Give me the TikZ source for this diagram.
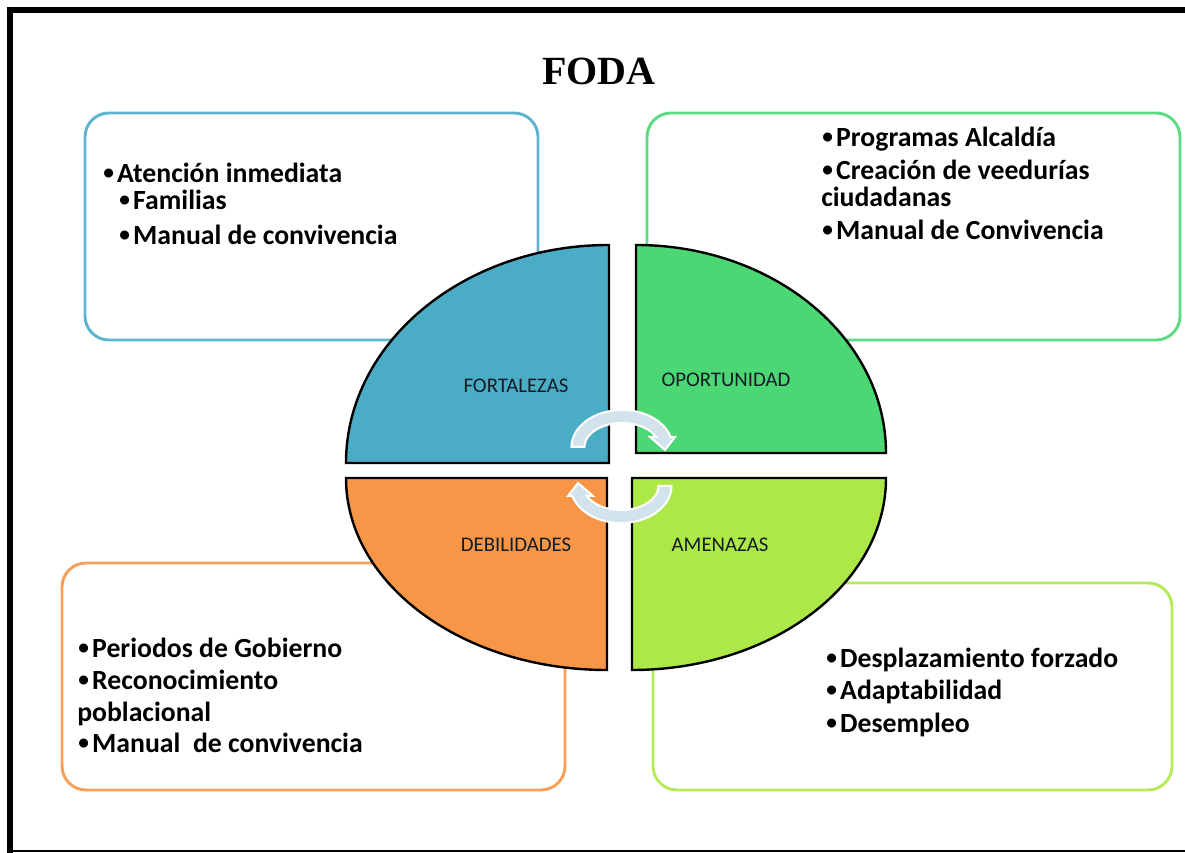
\documentclass[tikz,border=0pt]{standalone}
\usepackage{fontspec}
\setmainfont{Carlito}
\newfontfamily\titlefont{Liberation Serif}
\usetikzlibrary{positioning}

\definecolor{fortblue}{HTML}{4BACC6}
\definecolor{oporgreen}{HTML}{4AD774}
\definecolor{debiorange}{HTML}{F79646}
\definecolor{amenlime}{HTML}{ADE849}
\definecolor{cyclefill}{HTML}{D3E3EC}
\definecolor{labeltext}{HTML}{141C26}

% small bullet in front of each item
\newcommand{\itembul}{\raisebox{0.12em}{\fontsize{16}{16}\selectfont•}\hspace{0.12em}}

\begin{document}
\begin{tikzpicture}[x=0.75pt, y=0.75pt]
	% Define styles
	\tikzset{
		infobox/.style={line width=2.2pt, rounded corners=18pt},
		quadrant/.style={draw=black, line width=1.8pt, line join=miter},
		item/.style={anchor=base west, inner sep=0pt, font=\bfseries\fontsize{20.8}{24}\selectfont},
		quadlabel/.style={text=labeltext, font=\fontsize{15.6}{18}\selectfont},
		cyclearrow/.style={fill=cyclefill, draw=white, line width=1.5pt}
	}
	
	% Macro for one turning arrow
	\def\drawcycle{
		\path[cyclearrow] (-37.5,0) -- (-50.5,0)
			arc[start angle=180, end angle=15.7, x radius=50.5, y radius=37]
			-- (53,10) -- (43,-3) -- (28,10) -- (34.1,10)
			arc[start angle=24.6, end angle=180, x radius=37.5, y radius=24] -- cycle;
	}
	
	\useasboundingbox (0,0) rectangle (1185,853);
	
	% Frame
	\draw[line width=4.5pt] (1185,843) -- (10,843) -- (10,0);
	\draw[line width=1.5pt] (10,1.5) -- (1185,1.5);
	
	% Title
	\node[anchor=base, font=\titlefont\bfseries\fontsize{30}{36}\selectfont] (title) at (599,768) {FODA};
	
	% Boxes
	\draw[infobox, draw=fortblue!90] (85,513) rectangle (538,740);
	\draw[infobox, draw=oporgreen!90] (647,513) rectangle (1180,740);
	\draw[infobox, draw=debiorange!90] (62,63) rectangle (565,290);
	\draw[infobox, draw=amenlime!90] (653,63) rectangle (1172,270);
	
	% Quadrants
	\draw[quadrant, fill=fortblue] (609,390) -- (346,390)
		arc[start angle=180, end angle=90, x radius=263, y radius=218] -- cycle;
	\draw[quadrant, fill=oporgreen] (636,400) -- (636,608)
		arc[start angle=90, end angle=0, x radius=250, y radius=208] -- cycle;
	\draw[quadrant, fill=debiorange] (607,375) -- (607,183)
		arc[start angle=270, end angle=180, x radius=261, y radius=192] -- cycle;
	\draw[quadrant, fill=amenlime] (632,375) -- (886,375)
		arc[start angle=0, end angle=-90, x radius=254, y radius=192] -- cycle;
	
	\node[quadlabel] (fort) at (516,467) {FORTALEZAS};
	\node[quadlabel] (opor) at (726,473) {OPORTUNIDAD};
	\node[quadlabel] (debi) at (516,308) {DEBILIDADES};
	\node[quadlabel] (amen) at (720,308) {AMENAZAS};
	
	% Turning arrows
	\begin{scope}[shift={(622,406)}]
		\drawcycle
	\end{scope}
	\begin{scope}[shift={(621,367)}, rotate=180]
		\drawcycle
	\end{scope}
	
	% Fortalezas
	\node[item] (f1) at (103,670) {\itembul Atención inmediata};
	\node[item] (f2) at (119,643) {\itembul Familias};
	\node[item] (f3) at (119,608) {\itembul Manual de convivencia};
	
	% Oportunidad
	\node[item] (o1) at (822,706) {\itembul Programas Alcaldía};
	\node[item] (o2) at (822,673) {\itembul Creación de veedurías};
	\node[item] (o3) at (821,646) {ciudadanas};
	\node[item] (o4) at (822,613) {\itembul Manual de Convivencia};
	
	% Debilidades
	\node[item] (d1) at (78,195) {\itembul Periodos de Gobierno};
	\node[item] (d2) at (78,163) {\itembul Reconocimiento};
	\node[item] (d3) at (77,131) {poblacional};
	\node[item] (d4) at (78,100) {\itembul Manual\ \ de convivencia};
	
	% Amenazas
	\node[item] (a1) at (826,185) {\itembul Desplazamiento forzado};
	\node[item] (a2) at (826,153) {\itembul Adaptabilidad};
	\node[item] (a3) at (826,120) {\itembul Desempleo};
\end{tikzpicture}
\end{document}
